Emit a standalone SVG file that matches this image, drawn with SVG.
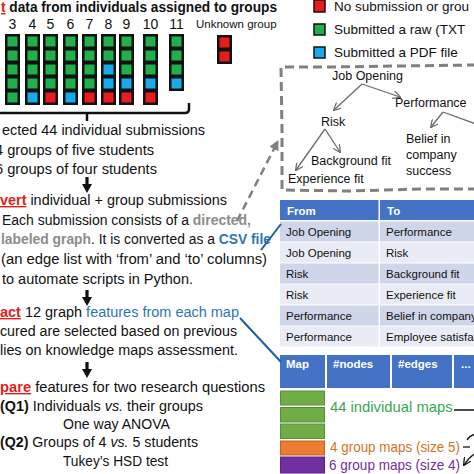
<svg xmlns="http://www.w3.org/2000/svg" width="474" height="474" viewBox="0 0 474 474">
<style>
text{font-family:"Liberation Sans",Arial,sans-serif;fill:#111}
.b{font-size:14px}
.t{font-size:14px;font-weight:bold}
.red{fill:#e3211c;font-weight:bold;text-decoration:underline}
.gray{fill:#8c8c8c;font-weight:bold}
.blue{fill:#2e75b6}
.bb{fill:#2e75b6;font-weight:bold}
.num{font-size:14px;text-anchor:middle}
.leg{font-size:13.5px}
.g{font-size:12.5px}
.tb{font-size:11.5px}
.th{font-size:11.5px;fill:#fff;font-weight:bold}
.col{fill:#111}
.G{fill:#1fb04b}
.B{fill:#1ba9ea}
.R{fill:#e81c1c}
.dash{fill:none;stroke:#808080;stroke-width:3;stroke-dasharray:9 5}
.edge{fill:none;stroke:#6b6b6b;stroke-width:1.3}
.hdr{fill:#4472c4}
.r1{fill:#cfd6ea}
.r2{fill:#e9ecf5}
</style>
<defs>
<marker id="ga" viewBox="0 0 10 10" refX="9" refY="5" markerWidth="6" markerHeight="6" orient="auto">
<path d="M0,0 L10,5 L0,10" fill="none" stroke="#6b6b6b" stroke-width="1.6"/>
</marker>
<marker id="da" viewBox="0 0 10 10" refX="9" refY="5" markerWidth="4" markerHeight="4" orient="auto">
<path d="M0,0 L10,5 L0,10 z" fill="#808080"/>
</marker>
<marker id="ka" viewBox="0 0 10 10" refX="9" refY="5" markerWidth="6" markerHeight="6" orient="auto">
<path d="M0,0 L10,5 L0,10" fill="none" stroke="#111" stroke-width="1.6"/>
</marker>
<path id="down" d="M-1.6,0 H1.6 V7 H5 L0,16 L-5,7 H-1.6 Z" fill="#111"/>
</defs>

<!-- Title -->
<text class="t" x="1" y="12" textLength="276" lengthAdjust="spacingAndGlyphs"><tspan class="red">t</tspan> data from individuals assigned to groups</text>

<!-- Group numbers -->
<g id="group-numbers">
<text class="num" x="12.5" y="29">3</text>
<text class="num" x="32.5" y="29">4</text>
<text class="num" x="50.5" y="29">5</text>
<text class="num" x="70.5" y="29">6</text>
<text class="num" x="89.5" y="29">7</text>
<text class="num" x="108.5" y="29">8</text>
<text class="num" x="126.5" y="29">9</text>
<text class="num" x="150.5" y="29">10</text>
<text class="num" x="176.5" y="29">11</text>
<text x="196" y="28" style="font-size:11.5px">Unknown group</text>
</g>

<!-- Columns -->
<g id="col3"><rect class="col" x="5" y="34" width="15" height="71"/>
<rect class="G" x="7.5" y="36.5" width="10" height="10"/><rect class="G" x="7.5" y="50.5" width="10" height="10"/><rect class="G" x="7.5" y="64.5" width="10" height="10"/><rect class="G" x="7.5" y="78.5" width="10" height="10"/><rect class="G" x="7.5" y="92.5" width="10" height="10"/></g>
<g id="col4"><rect class="col" x="25" y="34" width="15" height="71"/>
<rect class="G" x="27.5" y="36.5" width="10" height="10"/><rect class="G" x="27.5" y="50.5" width="10" height="10"/><rect class="G" x="27.5" y="64.5" width="10" height="10"/><rect class="G" x="27.5" y="78.5" width="10" height="10"/><rect class="B" x="27.5" y="92.5" width="10" height="10"/></g>
<g id="col5"><rect class="col" x="43" y="34" width="15" height="71"/>
<rect class="G" x="45.5" y="36.5" width="10" height="10"/><rect class="G" x="45.5" y="50.5" width="10" height="10"/><rect class="G" x="45.5" y="64.5" width="10" height="10"/><rect class="G" x="45.5" y="78.5" width="10" height="10"/><rect class="R" x="45.5" y="92.5" width="10" height="10"/></g>
<g id="col6"><rect class="col" x="63" y="34" width="15" height="71"/>
<rect class="G" x="65.5" y="36.5" width="10" height="10"/><rect class="G" x="65.5" y="50.5" width="10" height="10"/><rect class="G" x="65.5" y="64.5" width="10" height="10"/><rect class="G" x="65.5" y="78.5" width="10" height="10"/><rect class="B" x="65.5" y="92.5" width="10" height="10"/></g>
<g id="col7"><rect class="col" x="82" y="34" width="15" height="71"/>
<rect class="G" x="84.5" y="36.5" width="10" height="10"/><rect class="G" x="84.5" y="50.5" width="10" height="10"/><rect class="G" x="84.5" y="64.5" width="10" height="10"/><rect class="G" x="84.5" y="78.5" width="10" height="10"/><rect class="R" x="84.5" y="92.5" width="10" height="10"/></g>
<g id="col8"><rect class="col" x="101" y="34" width="15" height="71"/>
<rect class="G" x="103.5" y="36.5" width="10" height="10"/><rect class="G" x="103.5" y="50.5" width="10" height="10"/><rect class="B" x="103.5" y="64.5" width="10" height="10"/><rect class="B" x="103.5" y="78.5" width="10" height="10"/><rect class="R" x="103.5" y="92.5" width="10" height="10"/></g>
<g id="col9"><rect class="col" x="119" y="34" width="15" height="71"/>
<rect class="G" x="121.5" y="36.5" width="10" height="10"/><rect class="G" x="121.5" y="50.5" width="10" height="10"/><rect class="G" x="121.5" y="64.5" width="10" height="10"/><rect class="B" x="121.5" y="78.5" width="10" height="10"/><rect class="R" x="121.5" y="92.5" width="10" height="10"/></g>
<g id="col10"><rect class="col" x="143" y="34" width="15" height="71"/>
<rect class="G" x="145.5" y="36.5" width="10" height="10"/><rect class="G" x="145.5" y="50.5" width="10" height="10"/><rect class="G" x="145.5" y="64.5" width="10" height="10"/><rect class="B" x="145.5" y="78.5" width="10" height="10"/><rect class="R" x="145.5" y="92.5" width="10" height="10"/></g>
<g id="col11"><rect class="col" x="169" y="34" width="15" height="57"/>
<rect class="G" x="171.5" y="36.5" width="10" height="10"/><rect class="G" x="171.5" y="50.5" width="10" height="10"/><rect class="G" x="171.5" y="64.5" width="10" height="10"/><rect class="B" x="171.5" y="78.5" width="10" height="10"/></g>
<g id="col-unknown"><rect class="col" x="217" y="35" width="15" height="29"/>
<rect class="R" x="219.5" y="37.5" width="10" height="10"/><rect class="R" x="219.5" y="51.5" width="10" height="10"/></g>

<!-- Legend -->
<g id="legend">
<rect x="314" y="0" width="11" height="12" fill="#e81c1c" stroke="#111" stroke-width="1.5"/>
<text class="leg" x="334" y="11">No submission or grou</text>
<rect x="314" y="24" width="11" height="11" fill="#1fb04b" stroke="#111" stroke-width="1.5"/>
<text class="leg" x="334" y="34">Submitted a raw (TXT</text>
<rect x="314" y="47" width="11" height="11" fill="#1ba9ea" stroke="#111" stroke-width="1.5"/>
<text class="leg" x="334" y="57">Submitted a PDF file</text>
</g>

<!-- Left text -->
<g id="step-collect">
<text class="b" x="2" y="135" textLength="203" lengthAdjust="spacingAndGlyphs">ected 44 individual submissions</text>
<text class="b" x="-5" y="155" textLength="159" lengthAdjust="spacingAndGlyphs">4 groups of five students</text>
<text class="b" x="-5" y="174" textLength="162" lengthAdjust="spacingAndGlyphs">6 groups of four students</text>
</g>
<g id="step-convert">
<text class="b" x="0" y="205" textLength="227" lengthAdjust="spacingAndGlyphs"><tspan class="red">vert</tspan> individual + group submissions</text>
<text class="b" x="2" y="225" textLength="249" lengthAdjust="spacingAndGlyphs">Each submission consists of a <tspan class="gray">directed,</tspan></text>
<text class="b" x="1" y="244" textLength="270" lengthAdjust="spacingAndGlyphs"><tspan class="gray">labeled graph</tspan>. It is converted as a <tspan class="bb">CSV file</tspan></text>
<text class="b" x="1" y="264" textLength="266" lengthAdjust="spacingAndGlyphs">(an edge list with ‘from’ and ‘to’ columns)</text>
<text class="b" x="2" y="284" textLength="191" lengthAdjust="spacingAndGlyphs">to automate scripts in Python.</text>
</g>
<g id="step-extract">
<text class="b" x="0" y="317" textLength="239" lengthAdjust="spacingAndGlyphs"><tspan class="red">act</tspan> 12 graph <tspan class="blue">features from each map</tspan></text>
<text class="b" x="0" y="336" textLength="237" lengthAdjust="spacingAndGlyphs">cured are selected based on previous</text>
<text class="b" x="0" y="355" textLength="238" lengthAdjust="spacingAndGlyphs">lies on knowledge maps assessment.</text>
</g>
<g id="step-compare">
<text class="b" x="0" y="392" textLength="265" lengthAdjust="spacingAndGlyphs"><tspan class="red">pare</tspan> features for two research questions</text>
<text class="b" x="0" y="411" textLength="203" lengthAdjust="spacingAndGlyphs"><tspan font-weight="bold">(Q1)</tspan> Individuals <tspan font-style="italic">vs.</tspan> their groups</text>
<text class="b" x="63" y="429" textLength="107" lengthAdjust="spacingAndGlyphs">One way ANOVA</text>
<text class="b" x="0" y="447" textLength="198" lengthAdjust="spacingAndGlyphs"><tspan font-weight="bold">(Q2)</tspan> Groups of 4 <tspan font-style="italic">vs.</tspan> 5 students</text>
<text class="b" x="63" y="466" textLength="105" lengthAdjust="spacingAndGlyphs">Tukey’s HSD test</text>
</g>

<!-- Dashed graph box -->
<g id="graph-box">
<path class="dash" d="M476,65 L400,66 L330,67 L281,67 L282,130 L282,190 L350,191 L420,189 L476,189"/>
<text class="g" x="332" y="80">Job Opening</text>
<text class="g" x="395" y="107">Performance</text>
<text class="g" x="321" y="126">Risk</text>
<text class="g" x="311" y="165">Background fit</text>
<text class="g" x="288" y="183">Experience fit</text>
<text class="g" x="406" y="143">Belief in</text>
<text class="g" x="406" y="159">company</text>
<text class="g" x="406" y="175">success</text>
</g>

<!-- Table 1 -->
<g id="edge-table">
<rect class="hdr" x="280" y="200" width="194" height="20"/>
<rect x="378.5" y="200" width="1.5" height="147" fill="#fff"/>
<text class="th" x="287" y="214.5">From</text>
<text class="th" x="387" y="214.5">To</text>
<rect class="r1" x="280" y="221.5" width="98.5" height="20"/><rect class="r1" x="380" y="221.5" width="94" height="20"/>
<rect class="r2" x="280" y="242.5" width="98.5" height="20"/><rect class="r2" x="380" y="242.5" width="94" height="20"/>
<rect class="r1" x="280" y="263.5" width="98.5" height="20"/><rect class="r1" x="380" y="263.5" width="94" height="20"/>
<rect class="r2" x="280" y="284.5" width="98.5" height="20"/><rect class="r2" x="380" y="284.5" width="94" height="20"/>
<rect class="r1" x="280" y="305.5" width="98.5" height="20"/><rect class="r1" x="380" y="305.5" width="94" height="20"/>
<rect class="r2" x="280" y="326.5" width="98.5" height="20"/><rect class="r2" x="380" y="326.5" width="94" height="20"/>
<text class="tb" x="286" y="235.5">Job Opening</text><text class="tb" x="386" y="235.5">Performance</text>
<text class="tb" x="286" y="256.5">Job Opening</text><text class="tb" x="386" y="256.5">Risk</text>
<text class="tb" x="286" y="277.5">Risk</text><text class="tb" x="386" y="277.5">Background fit</text>
<text class="tb" x="286" y="298.5">Risk</text><text class="tb" x="386" y="298.5">Experience fit</text>
<text class="tb" x="286" y="319.5">Performance</text><text class="tb" x="386" y="319.5">Belief in company</text>
<text class="tb" x="286" y="340.5">Performance</text><text class="tb" x="386" y="340.5">Employee satisfac</text>
</g>

<!-- Table 2 -->
<g id="feature-table">
<rect class="hdr" x="280" y="355" width="45" height="33"/>
<rect class="hdr" x="327" y="355" width="63" height="33"/>
<rect class="hdr" x="392" y="355" width="60" height="33"/>
<rect class="hdr" x="454" y="355" width="20" height="33"/>
<text class="th" x="286" y="368" font-weight="normal">Map</text>
<text class="th" x="333" y="368" font-weight="normal">#nodes</text>
<text class="th" x="398" y="368" font-weight="normal">#edges</text>
<text class="th" x="461" y="368" font-weight="normal">...</text>
<rect x="280.5" y="391" width="44" height="14" fill="#70ad47" stroke="#5a8d3a" stroke-width="1"/>
<rect x="280.5" y="407.5" width="44" height="14.5" fill="#70ad47" stroke="#5a8d3a" stroke-width="1"/>
<rect x="280.5" y="424" width="44" height="14.5" fill="#70ad47" stroke="#5a8d3a" stroke-width="1"/>
<rect x="280.5" y="441" width="44" height="14" fill="#ed7d31" stroke="#c0651f" stroke-width="1"/>
<rect x="280.5" y="457" width="44" height="16" fill="#7030a0" stroke="#5a2282" stroke-width="1"/>
<text x="330" y="412" style="font-size:14.8px;fill:#3aa655">44 individual maps</text>
<text x="330" y="452" style="font-size:14.8px;fill:#d4731f" textLength="130" lengthAdjust="spacingAndGlyphs">4 group maps (size 5)</text>
<text x="329" y="470" style="font-size:14.8px;fill:#7030a0" textLength="131" lengthAdjust="spacingAndGlyphs">6 group maps (size 4)</text>
</g>

<!-- Connectors -->
<g id="connectors">
<use href="#down" x="87" y="177"/>
<use href="#down" x="87" y="290"/>
<use href="#down" x="87" y="362"/>
<path d="M0,113 L185,113 Q189,113 189,109 L189,103 M87,113 L87,121" fill="none" stroke="#111" stroke-width="2.5"/>
<path class="edge" d="M362,84 L334,110" marker-end="url(#ga)"/>
<path class="edge" d="M362,84 L400,97" marker-end="url(#ga)"/>
<path class="edge" d="M443,112 L431,127" marker-end="url(#ga)"/>
<path class="edge" d="M443,112 L476,124"/>
<path class="edge" d="M325,129 L340,152" marker-end="url(#ga)"/>
<path class="edge" d="M325,129 L296,170" marker-end="url(#ga)"/>
<path d="M237,221 L278,141" fill="none" stroke="#808080" stroke-width="2.5" stroke-dasharray="8 5" marker-end="url(#da)"/>
<path d="M261,250 L281,224" fill="none" stroke="#1f5f9f" stroke-width="2"/>
<path d="M240,318 L281,362" fill="none" stroke="#1f5f9f" stroke-width="2"/>
<path d="M454,410 L476,410" fill="none" stroke="#111" stroke-width="1.5"/>
<path d="M463,447 L470,447" fill="none" stroke="#111" stroke-width="1.3"/>
<path d="M476,434 Q470,435 467,440" fill="none" stroke="#111" stroke-width="1.3"/>
<path d="M476,453 Q469,457 464,465" fill="none" stroke="#111" stroke-width="1.3" marker-end="url(#ka)"/>
</g>
</svg>
